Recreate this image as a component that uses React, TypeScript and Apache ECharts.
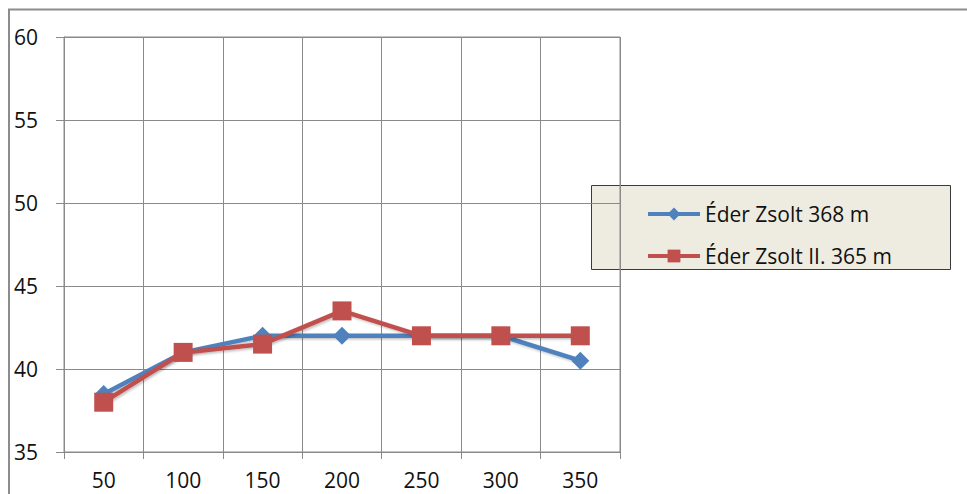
import React, { useEffect, useRef } from "react";
import * as echarts from "echarts";

const categories = ["50", "100", "150", "200", "250", "300", "350"];
const seriesAName = "Éder Zsolt 368 m";
const seriesAValues = [38.5, 41, 42, 42, 42, 42, 40.5];
const seriesBName = "Éder Zsolt II. 365 m";
const seriesBValues = [38, 41, 41.5, 43.5, 42, 42, 42];
const yMin = 35;
const yMax = 60;
const yStep = 5;

const FONT = "'Open Sans', 'DejaVu Sans', sans-serif";
const GRID_COLOR = "#8a8a8a";
const TEXT_COLOR = "#111111";

export default function App() {
  const ref = useRef<HTMLDivElement>(null);
  useEffect(() => {
    if (!ref.current) return;
    const chart = echarts.init(ref.current, null, { renderer: "svg" });
    chart.setOption({
      animation: false,
      backgroundColor: "#ffffff",
      grid: {
        left: 64,
        top: 37,
        right: 347,
        bottom: 42,
        show: true,
        borderColor: GRID_COLOR,
        borderWidth: 1,
        backgroundColor: "transparent",
      },
      xAxis: {
        type: "category",
        data: categories,
        boundaryGap: true,
        axisLine: { show: true, lineStyle: { color: GRID_COLOR, width: 1 } },
        axisTick: { show: true, length: 7, lineStyle: { color: GRID_COLOR } },
        splitLine: { show: true, lineStyle: { color: GRID_COLOR, width: 1 } },
        axisLabel: { color: TEXT_COLOR, fontFamily: FONT, fontSize: 21, margin: 17 },
      },
      yAxis: {
        type: "value",
        min: yMin,
        max: yMax,
        interval: yStep,
        axisLine: { show: true, lineStyle: { color: GRID_COLOR, width: 1 } },
        axisTick: { show: true, length: 8, lineStyle: { color: GRID_COLOR } },
        splitLine: { show: true, lineStyle: { color: GRID_COLOR, width: 1 } },
        axisLabel: {
          color: TEXT_COLOR,
          fontFamily: FONT,
          fontSize: 21,
          align: "left",
          margin: 50,
        },
      },
      legend: {
        orient: "vertical",
        left: 641,
        top: 197,
        itemWidth: 52,
        itemHeight: 16,
        itemGap: 18,
        lineStyle: { width: 4 },
        textStyle: { color: TEXT_COLOR, fontFamily: FONT, fontSize: 21, lineHeight: 24 },
        data: [seriesAName, seriesBName],
      },
      graphic: [
        {
          type: "rect",
          shape: { x: 591.5, y: 185.5, width: 359, height: 84 },
          style: { fill: "#EEECE1", stroke: "#3a3a3a", lineWidth: 1 },
          z: -1,
          silent: true,
        },
        {
          type: "line",
          shape: { x1: 8, y1: 9.5, x2: 967, y2: 9.5 },
          style: { stroke: "#8c8c8c", lineWidth: 2 },
          silent: true,
        },
        {
          type: "line",
          shape: { x1: 9, y1: 9, x2: 9, y2: 494 },
          style: { stroke: "#8c8c8c", lineWidth: 2 },
          silent: true,
        },
      ],
      series: [
        {
          name: seriesAName,
          type: "line",
          data: seriesAValues,
          symbol: "diamond",
          symbolSize: 18,
          color: "#4F81BD",
          lineStyle: {
            width: 4.5,
            color: "#4F81BD",
            shadowColor: "rgba(0,0,0,0.25)",
            shadowBlur: 2,
            shadowOffsetX: 1.5,
            shadowOffsetY: 1.5,
          },
          itemStyle: { color: "#4F81BD" },
        },
        {
          name: seriesBName,
          type: "line",
          data: seriesBValues,
          symbol: "rect",
          symbolSize: 19,
          color: "#C0504D",
          lineStyle: {
            width: 4.5,
            color: "#C0504D",
            shadowColor: "rgba(0,0,0,0.25)",
            shadowBlur: 2,
            shadowOffsetX: 1.5,
            shadowOffsetY: 1.5,
          },
          itemStyle: { color: "#C0504D" },
        },
      ],
    });
    return () => chart.dispose();
  }, []);
  return (
    <div
      ref={ref}
      style={{ position: "absolute", left: 0, top: 0, width: 967, height: 494 }}
    />
  );
}
